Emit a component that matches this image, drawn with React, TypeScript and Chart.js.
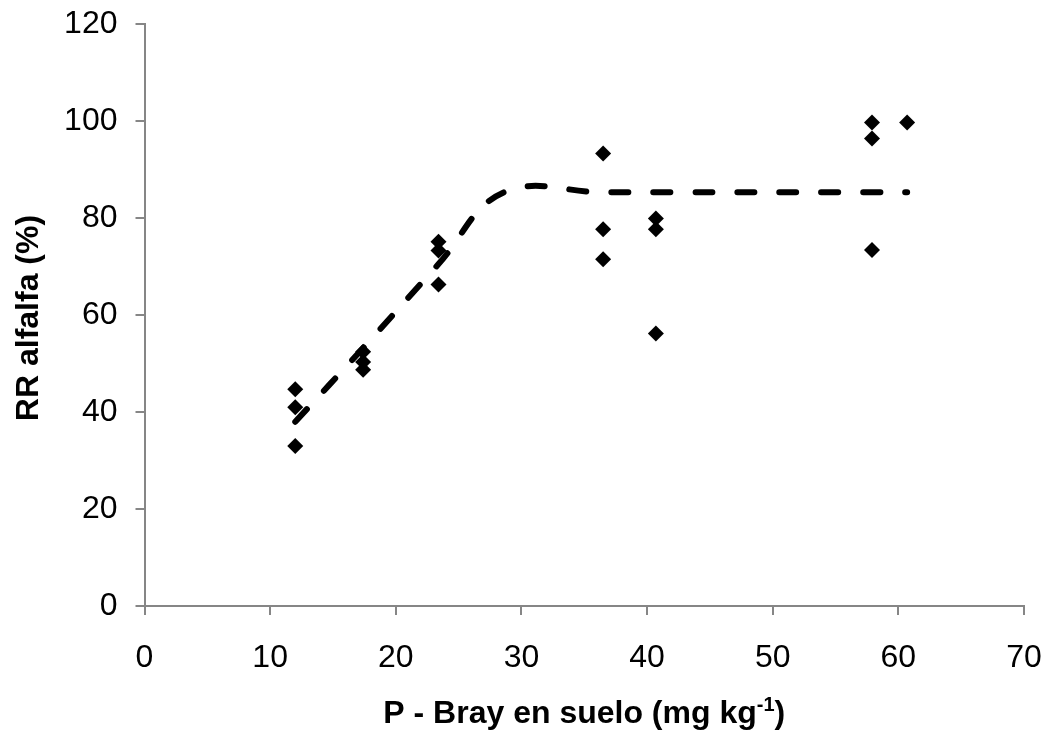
import React, { useEffect, useRef } from "react";
import { Chart, registerables } from "chart.js";

Chart.register(...registerables);

// Observed data (P-Bray mg/kg vs RR alfalfa %)
const obsX = [12, 12, 12, 17.4, 17.4, 17.4, 23.4, 23.4, 23.4, 36.5, 36.5, 36.5, 40.7, 40.7, 40.7, 57.9, 57.9, 57.9, 60.7];
const obsY = [44.7, 41, 33, 52.4, 50.3, 48.7, 75.1, 73.3, 66.3, 93.3, 77.7, 71.5, 79.9, 77.7, 56.2, 99.7, 96.4, 73.4, 99.7];

// Fitted linear-plateau model (dashed line)
const fitX = [12, 17.4, 23.4, 28.6, 36.5, 40.7, 57.9, 60.7];
const fitY = [38, 53.2, 70.5, 85.3, 85.3, 85.3, 85.3, 85.3];

const xTicks = [0, 10, 20, 30, 40, 50, 60, 70];
const yTicks = [0, 20, 40, 60, 80, 100, 120];

const xTitleMain = "P - Bray en suelo (mg kg";
const xTitleSup = "-1";
const xTitleEnd = ")";
const yTitle = "RR alfalfa (%)";

const FONT = "'Liberation Sans', Arial, Helvetica, sans-serif";
const AXIS_COLOR = "#868686";

const titlesPlugin = {
  id: "customTitles",
  afterDraw(chart: any) {
    const { ctx, chartArea } = chart;
    ctx.save();
    ctx.fillStyle = "#000";
    const big = `bold 32px ${FONT}`;
    const small = `bold 20px ${FONT}`;
    ctx.font = big;
    const w1 = ctx.measureText(xTitleMain).width;
    const w3 = ctx.measureText(xTitleEnd).width;
    ctx.font = small;
    const w2 = ctx.measureText(xTitleSup).width;
    const total = w1 + w2 + w3;
    const cx = (chartArea.left + chartArea.right) / 2;
    let x = cx - total / 2;
    const baseY = chartArea.bottom + 117;
    ctx.textBaseline = "alphabetic";
    ctx.textAlign = "left";
    ctx.font = big;
    ctx.fillText(xTitleMain, x, baseY);
    x += w1;
    ctx.font = small;
    ctx.fillText(xTitleSup, x, baseY - 12);
    x += w2;
    ctx.font = big;
    ctx.fillText(xTitleEnd, x, baseY);
    // Y title rotated
    ctx.translate(chartArea.left - 115, (chartArea.top + chartArea.bottom) / 2 + 3);
    ctx.rotate(-Math.PI / 2);
    ctx.font = big;
    ctx.textAlign = "center";
    ctx.textBaseline = "middle";
    ctx.fillText(yTitle, 0, 0);
    ctx.restore();
  },
};

export default function App() {
  const ref = useRef<HTMLCanvasElement | null>(null);
  useEffect(() => {
    document.body.style.margin = "0";
    if (!ref.current) return;
    const chart = new Chart(ref.current, {
      type: "scatter",
      data: {
        datasets: [
          {
            label: "Observado",
            data: obsX.map((x, i) => ({ x, y: obsY[i] })),
            pointStyle: "rectRot",
            pointRadius: 8,
            pointBorderWidth: 0,
            backgroundColor: "#000",
            borderColor: "#000",
            showLine: false,
            order: 2,
          },
          {
            label: "Modelo",
            data: fitX.map((x, i) => ({ x, y: fitY[i] })),
            showLine: true,
            pointRadius: 0,
            borderColor: "#000",
            borderWidth: 6,
            borderDash: [17, 25],
            borderCapStyle: "round",
            tension: 0.4,
            order: 1,
          },
        ],
      },
      options: {
        animation: false,
        responsive: false,
        devicePixelRatio: 1,
        layout: { padding: { top: 24, right: 31, left: 0, bottom: 0 } },
        plugins: {
          legend: { display: false },
          tooltip: { enabled: false },
          title: { display: false },
        },
        scales: {
          x: {
            type: "linear",
            min: 0,
            max: 70,
            afterBuildTicks: (axis: any) => {
              axis.ticks = xTicks.map((v) => ({ value: v }));
            },
            afterFit: (axis: any) => {
              axis.height = 125;
              axis.paddingLeft = 0;
              axis.paddingRight = 0;
            },
            grid: {
              drawOnChartArea: false,
              drawTicks: true,
              tickLength: 9,
              color: AXIS_COLOR,
              lineWidth: 2,
            },
            border: { color: AXIS_COLOR, width: 2 },
            ticks: {
              color: "#000",
              font: { family: FONT, size: 32 },
              padding: 24,
              maxRotation: 0,
            },
          },
          y: {
            type: "linear",
            min: 0,
            max: 120,
            afterBuildTicks: (axis: any) => {
              axis.ticks = yTicks.map((v) => ({ value: v }));
            },
            afterFit: (axis: any) => {
              axis.width = 144.5;
              axis.paddingTop = 0;
              axis.paddingBottom = 0;
            },
            grid: {
              drawOnChartArea: false,
              drawTicks: true,
              tickLength: 9,
              color: AXIS_COLOR,
              lineWidth: 2,
            },
            border: { color: AXIS_COLOR, width: 2 },
            ticks: {
              color: "#000",
              font: { family: FONT, size: 32 },
              padding: 18,
            },
          },
        },
      },
      plugins: [titlesPlugin],
    });
    return () => chart.destroy();
  }, []);
  return (
    <div style={{ width: 1055, height: 731, background: "#fff" }}>
      <canvas ref={ref} width={1055} height={731} style={{ width: 1055, height: 731 }} />
    </div>
  );
}
